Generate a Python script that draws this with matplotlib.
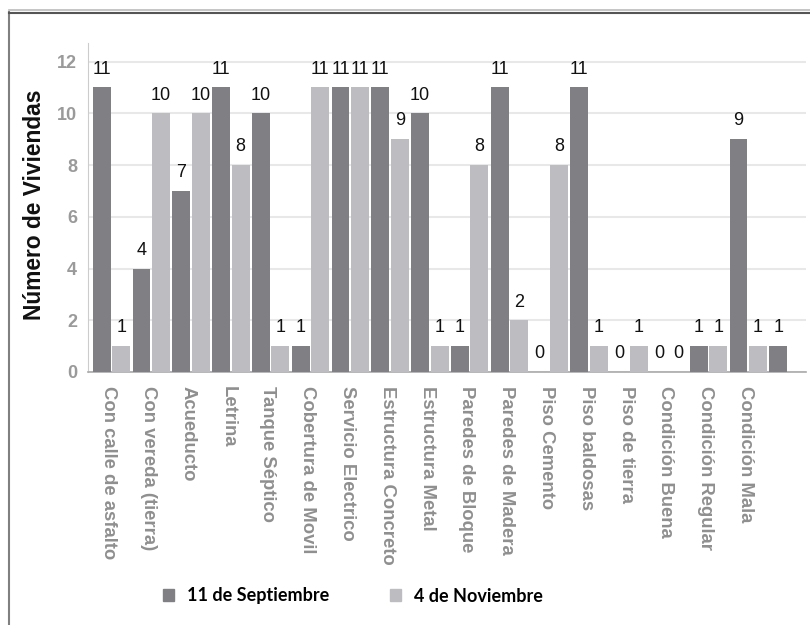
import numpy as np
import matplotlib
matplotlib.use("Agg")
import matplotlib.pyplot as plt
from matplotlib.lines import Line2D
from matplotlib.patches import Patch

plt.rcParams['font.family'] = ['Liberation Sans', 'DejaVu Sans']

# Data
categorias = ["Con calle de asfalto", "Con vereda (tierra)", "Acueducto", "Letrina",
              "Tanque Séptico", "Cobertura de Movil", "Servicio Electrico",
              "Estructura Concreto", "Estructura Metal", "Paredes de Bloque",
              "Paredes de Madera", "Piso Cemento", "Piso baldosas", "Piso de tierra",
              "Condición Buena", "Condición Regular", "Condición Mala", ""]
septiembre = [11, 4, 7, 11, 10, 1, 11, 11, 10, 1, 11, 0, 11, 0, 0, 1, 9, 1]
noviembre = [1, 10, 10, 8, 1, 11, 11, 9, 1, 8, 2, 8, 1, 1, 0, 1, 1, np.nan]
series_names = ["11 de Septiembre", "4 de Noviembre"]
y_ticks = [0, 2, 4, 6, 8, 10, 12]

DARK = "#808084"
LIGHT = "#bdbdc1"

fig = plt.figure(figsize=(8.1, 6.25), dpi=100)
ax = fig.add_axes([88/810, 1 - 372/625, 718/810, 329/625])

x = np.arange(len(categorias))
w = 0.45
off = 0.245
b1 = ax.bar(x - off, septiembre, w, color=DARK, zorder=3)
b2 = ax.bar(x + off, noviembre, w, color=LIGHT, zorder=3)

for bars, vals in ((b1, septiembre), (b2, noviembre)):
    for rect, v in zip(bars, vals):
        if np.isnan(v):
            continue
        ax.annotate(f"{int(v)}", (rect.get_x() + rect.get_width() / 2, v),
                    xytext=(0, 7), textcoords="offset points",
                    ha="center", va="bottom", fontsize=13, color="#111111", zorder=4)

ax.set_xlim(-0.59, 17.45)
ax.set_ylim(0, 12.72)
ax.set_yticks(y_ticks)
ax.set_yticklabels([str(t) for t in y_ticks], fontsize=13, fontweight="bold", color="#9a9a9a")
ax.set_xticks(x - 0.07)
ax.set_xticklabels(categorias, rotation=-90, fontsize=13.3, color="#8f8f8f",
                   fontweight="bold", va="top", ha="center")
ax.tick_params(axis="both", length=0)
ax.tick_params(axis="y", pad=8)
ax.tick_params(axis="x", pad=10)
ax.grid(axis="y", color="#e8e8e8", linewidth=1.5, zorder=0)
ax.set_axisbelow(True)
for s in ("top", "right"):
    ax.spines[s].set_visible(False)
ax.spines["left"].set_color("#cccccc")
ax.spines["bottom"].set_color("#aaaaaa")
ax.spines["bottom"].set_linewidth(1.2)

fig.text(35/810, 1 - 205/625, "Número de Viviendas", rotation=90, ha="center", va="center",
         fontsize=16.4, fontweight="bold", color="#111111")

# outer frame remnants
fig.add_artist(Line2D([9/810, 9/810], [0, 1 - 12/625], color="#808080", linewidth=1.5))
fig.add_artist(Line2D([9/810, 1], [1 - 10/625, 1 - 10/625], color="#bbbbbb", linewidth=1.2))
fig.add_artist(Line2D([9/810, 1], [1 - 12.5/625, 1 - 12.5/625], color="#555555", linewidth=1.5))

handles = [Patch(color=DARK), Patch(color=LIGHT)]
fig.legend(handles, series_names, loc="center", bbox_to_anchor=(353/810, 1 - 596/625),
           ncol=2, frameon=False, handlelength=0.6, handleheight=0.6, handletextpad=0.7,
           columnspacing=3.4, prop={"family": "Lato", "weight": "bold", "size": 13})

fig.savefig("out.png", dpi=100)
